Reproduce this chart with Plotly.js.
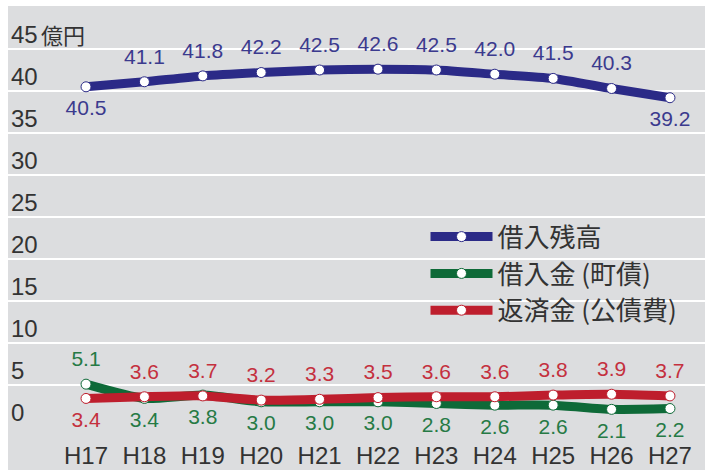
<!DOCTYPE html>
<html>
<head>
<meta charset="utf-8">
<script src="https://cdn.plot.ly/plotly-3.0.1.min.js"></script>
<style>html,body{margin:0;padding:0;background:#fff;}#chart{width:708px;height:470px;}</style>
</head>
<body>
<div id="chart"></div>
<script>
const categories = ['H17','H18','H19','H20','H21','H22','H23','H24','H25','H26','H27'];
const zandaka = [40.5, 41.1, 41.8, 42.2, 42.5, 42.6, 42.5, 42.0, 41.5, 40.3, 39.2];
const kariire = [5.1, 3.4, 3.8, 3.0, 3.0, 3.0, 2.8, 2.6, 2.6, 2.1, 2.2];
const hensai = [3.4, 3.6, 3.7, 3.2, 3.3, 3.5, 3.6, 3.6, 3.8, 3.9, 3.7];
const zandakaPos = ['bottom center','top center','top center','top center','top center','top center','top center','top center','top center','top center','bottom center'];
const kariirePos = ['top center','bottom center','bottom center','bottom center','bottom center','bottom center','bottom center','bottom center','bottom center','bottom center','bottom center'];
const hensaiPos = ['bottom center','top center','top center','top center','top center','top center','top center','top center','top center','top center','top center'];
const yTickVals = [0,5,10,15,20,25,30,35,40,45];
const yTickText = ['0','5','10','15','20','25','30','35','40','45'];
const yUnit = '億円';
const seriesNames = ['借入残高','借入金 (町債)','返済金 (公債費)'];

const numFont = 'Liberation Sans, Arial, sans-serif';
const jpFont = 'Noto Sans CJK JP, sans-serif';
const bg = '#dcdddf';

function lineTrace(name, y, lineColor) {
  return {
    type: 'scatter', mode: 'lines+markers', name: name,
    x: categories, y: y,
    line: {color: lineColor, width: 9, shape: 'spline', smoothing: 0.6},
    marker: {color: '#ffffff', size: 10, line: {color: lineColor, width: 1}},
    cliponaxis: false, hoverinfo: 'skip'
  };
}
function labelTrace(y, pos, textColor) {
  return {
    type: 'scatter', mode: 'markers+text', showlegend: false,
    x: categories, y: y,
    text: y.map(v => v.toFixed(1)), textposition: pos,
    textfont: {family: numFont, size: 21, color: textColor},
    marker: {size: 19, color: 'rgba(0,0,0,0)'},
    cliponaxis: false, hoverinfo: 'skip'
  };
}

const data = [
  lineTrace(seriesNames[0], zandaka, '#2b2a87'),
  lineTrace(seriesNames[1], kariire, '#0e6a38'),
  lineTrace(seriesNames[2], hensai, '#be1e2d'),
  labelTrace(zandaka, zandakaPos, '#3b3a8e'),
  labelTrace(kariire, kariirePos, '#267a45'),
  labelTrace(hensai, hensaiPos, '#c4303e')
];

const layout = {
  width: 708, height: 470,
  margin: {l: 8, r: 3, t: 6, b: 35},
  paper_bgcolor: '#ffffff', plot_bgcolor: 'rgba(0,0,0,0)',
  shapes: [{type: 'rect', xref: 'paper', yref: 'paper', x0: 0, x1: 1, y0: -0.1, y1: 1,
            fillcolor: bg, line: {width: 0}, layer: 'below'}],
  annotations: [{text: yUnit, xref: 'paper', yref: 'y', x: 0.045, y: 45, xanchor: 'left', yanchor: 'middle',
                 yshift: 15, showarrow: false, font: {family: jpFont, size: 22, color: '#333333'}}],
  showlegend: true,
  legend: {x: 0.599, y: 0.517, xanchor: 'left', yanchor: 'top', bgcolor: 'rgba(0,0,0,0)',
           font: {family: jpFont, size: 26, color: '#333333'}, itemwidth: 62, tracegroupgap: 0},
  xaxis: {type: 'category', range: [-1.336, 10.6], showgrid: false, zeroline: false, showline: false,
          ticks: '', ticklabelstandoff: 4,
          tickfont: {family: numFont, size: 24, color: '#333333'}, fixedrange: true},
  yaxis: {range: [-0.952, 50.12], tickvals: yTickVals, ticktext: yTickText,
          ticklabelposition: 'inside', ticklabelshift: -14, ticks: '',
          tickfont: {family: numFont, size: 24, color: '#333333'},
          showgrid: true, gridcolor: '#ffffff', gridwidth: 2.5,
          zeroline: true, zerolinecolor: bg, zerolinewidth: 4, showline: false, fixedrange: true}
};

Plotly.newPlot('chart', data, layout, {displayModeBar: false, staticPlot: true});
</script>
</body>
</html>
